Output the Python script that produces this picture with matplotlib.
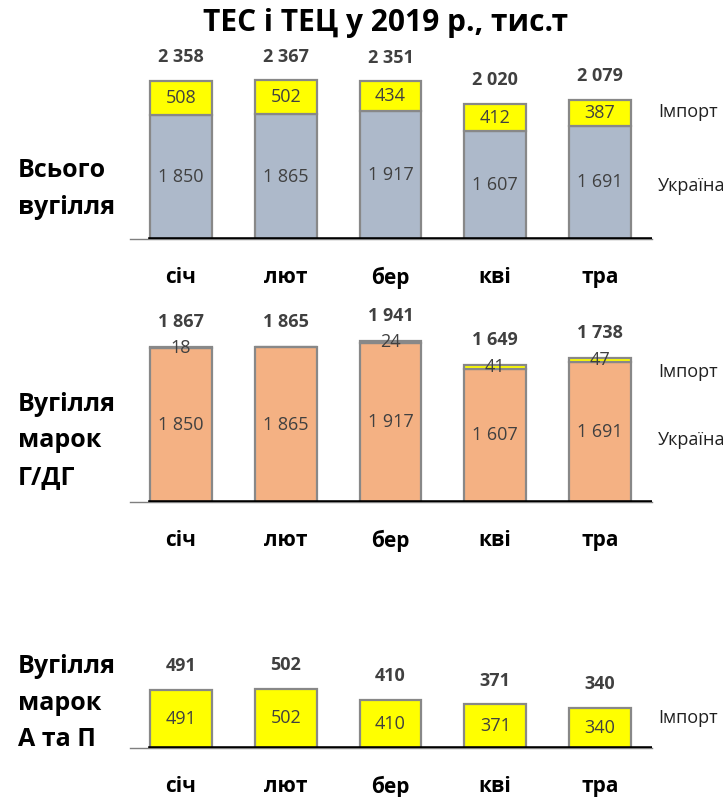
import matplotlib
matplotlib.use("Agg")
import matplotlib.pyplot as plt

plt.rcParams["font.family"] = ["Open Sans", "DejaVu Sans"]

# data, тис.т
months = ["січ", "лют", "бер", "кві", "тра"]

all_ukraine = [1850, 1865, 1917, 1607, 1691]
all_import = [508, 502, 434, 412, 387]
all_total = [2358, 2367, 2351, 2020, 2079]

gdg_ukraine = [1850, 1865, 1917, 1607, 1691]
gdg_import = [18, 0, 24, 41, 47]
gdg_total = [1867, 1865, 1941, 1649, 1738]

ap_import = [491, 502, 410, 371, 340]

GRAY = "#ADB9CA"
ORANGE = "#F4B183"
YELLOW = "#FFFF00"
EDGE = "#888888"
TXT = "#404040"

W, H = 728, 797
fig = plt.figure(figsize=(W / 100, H / 100), dpi=100)


def fmt(v):
    return f"{v:,}".replace(",", " ")


def make_axes(top_px, base_px, left_px=130, right_px=652):
    return fig.add_axes([left_px / W, (H - base_px) / H,
                         (right_px - left_px) / W, (base_px - top_px) / H])


def style(ax, ymax):
    ax.set_xlim(-0.487, 4.497)
    ax.set_ylim(0, ymax)
    for s in ["top", "right", "left"]:
        ax.spines[s].set_visible(False)
    ax.spines["bottom"].set_color("#7f7f7f")
    ax.spines["bottom"].set_linewidth(1)
    ax.axhline(0, xmin=0.038, xmax=1, color="black", lw=2.6, zorder=5)
    ax.set_yticks([])
    ax.set_xticks(range(len(months)))
    ax.set_xticklabels(months, fontsize=15, fontweight="bold", color="black")
    ax.tick_params(axis="x", length=0, pad=20)
    ax.patch.set_alpha(0)


x = list(range(len(months)))
bw = 0.59
FS_IN = 13
FS_TOT = 13

# --- panel 1: all coal
ax1 = make_axes(40, 239)
style(ax1, 199 * 2358 / 158)
ax1.bar(x, all_ukraine, bw, color=GRAY, edgecolor=EDGE, lw=1.6, zorder=2)
ax1.bar(x, all_import, bw, bottom=all_ukraine, color=YELLOW, edgecolor=EDGE, lw=1.6, zorder=2)
for i in x:
    top = all_ukraine[i] + all_import[i]
    ax1.text(i, all_ukraine[i] / 2, fmt(all_ukraine[i]), ha="center", va="center",
             fontsize=FS_IN, color=TXT, zorder=6)
    ax1.text(i, all_ukraine[i] + all_import[i] / 2, fmt(all_import[i]), ha="center",
             va="center", fontsize=FS_IN, color=TXT, zorder=6)
    ax1.annotate(fmt(all_total[i]), (i, top), xytext=(0, 17), textcoords="offset points",
                 ha="center", va="center", fontsize=FS_TOT, fontweight="bold", color=TXT)

# --- panel 2: G/DG coal
ax2 = make_axes(300, 502)
style(ax2, 202 * 1867 / 155)
imp_colors = ["#808080" if i in (0, 2) else YELLOW for i in x]
ax2.bar(x, gdg_ukraine, bw, color=ORANGE, edgecolor=EDGE, lw=1.6, zorder=2)
ax2.bar(x, gdg_import, bw, bottom=gdg_ukraine, color=imp_colors, edgecolor=EDGE, lw=1.6, zorder=2)
for i in x:
    top = gdg_ukraine[i] + gdg_import[i]
    ax2.text(i, gdg_ukraine[i] / 2, fmt(gdg_ukraine[i]), ha="center", va="center",
             fontsize=FS_IN, color=TXT, zorder=6)
    if gdg_import[i]:
        ax2.text(i, gdg_ukraine[i] + gdg_import[i] / 2, fmt(gdg_import[i]), ha="center",
                 va="center", fontsize=FS_IN, color=TXT, zorder=6)
    ax2.annotate(fmt(gdg_total[i]), (i, top), xytext=(0, 18), textcoords="offset points",
                 ha="center", va="center", fontsize=FS_TOT, fontweight="bold", color=TXT)

# --- panel 3: A and P coal
ax3 = make_axes(640, 748)
style(ax3, 108 * 491 / 58)
ax3.bar(x, ap_import, bw, color=YELLOW, edgecolor=EDGE, lw=1.6, zorder=2)
for i in x:
    ax3.text(i, ap_import[i] / 2, fmt(ap_import[i]), ha="center", va="center",
             fontsize=FS_IN, color=TXT, zorder=6)
    ax3.annotate(fmt(ap_import[i]), (i, ap_import[i]), xytext=(0, 17),
                 textcoords="offset points", ha="center", va="center",
                 fontsize=FS_TOT, fontweight="bold", color=TXT)

# title and side labels
fig.text(386 / W, 1 - 23 / H, "ТЕС і ТЕЦ у 2019 р., тис.т", ha="center", va="center",
         fontsize=21.5, fontweight="bold")

left = [("Всього\nвугілля", 189), ("Вугілля\nмарок\nГ/ДГ", 441), ("Вугілля\nмарок\nА та П", 703)]
for txt, yc in left:
    fig.text(18 / W, 1 - yc / H, txt, ha="left", va="center", fontsize=18,
             fontweight="bold", linespacing=1.58)

right = [("Імпорт", 112), ("Україна", 186), ("Імпорт", 372), ("Україна", 440), ("Імпорт", 718)]
for txt, yc in right:
    fig.text(658 / W, 1 - yc / H, txt, ha="left", va="center", fontsize=13, color="#202020")

fig.savefig("out.png", dpi=100)
